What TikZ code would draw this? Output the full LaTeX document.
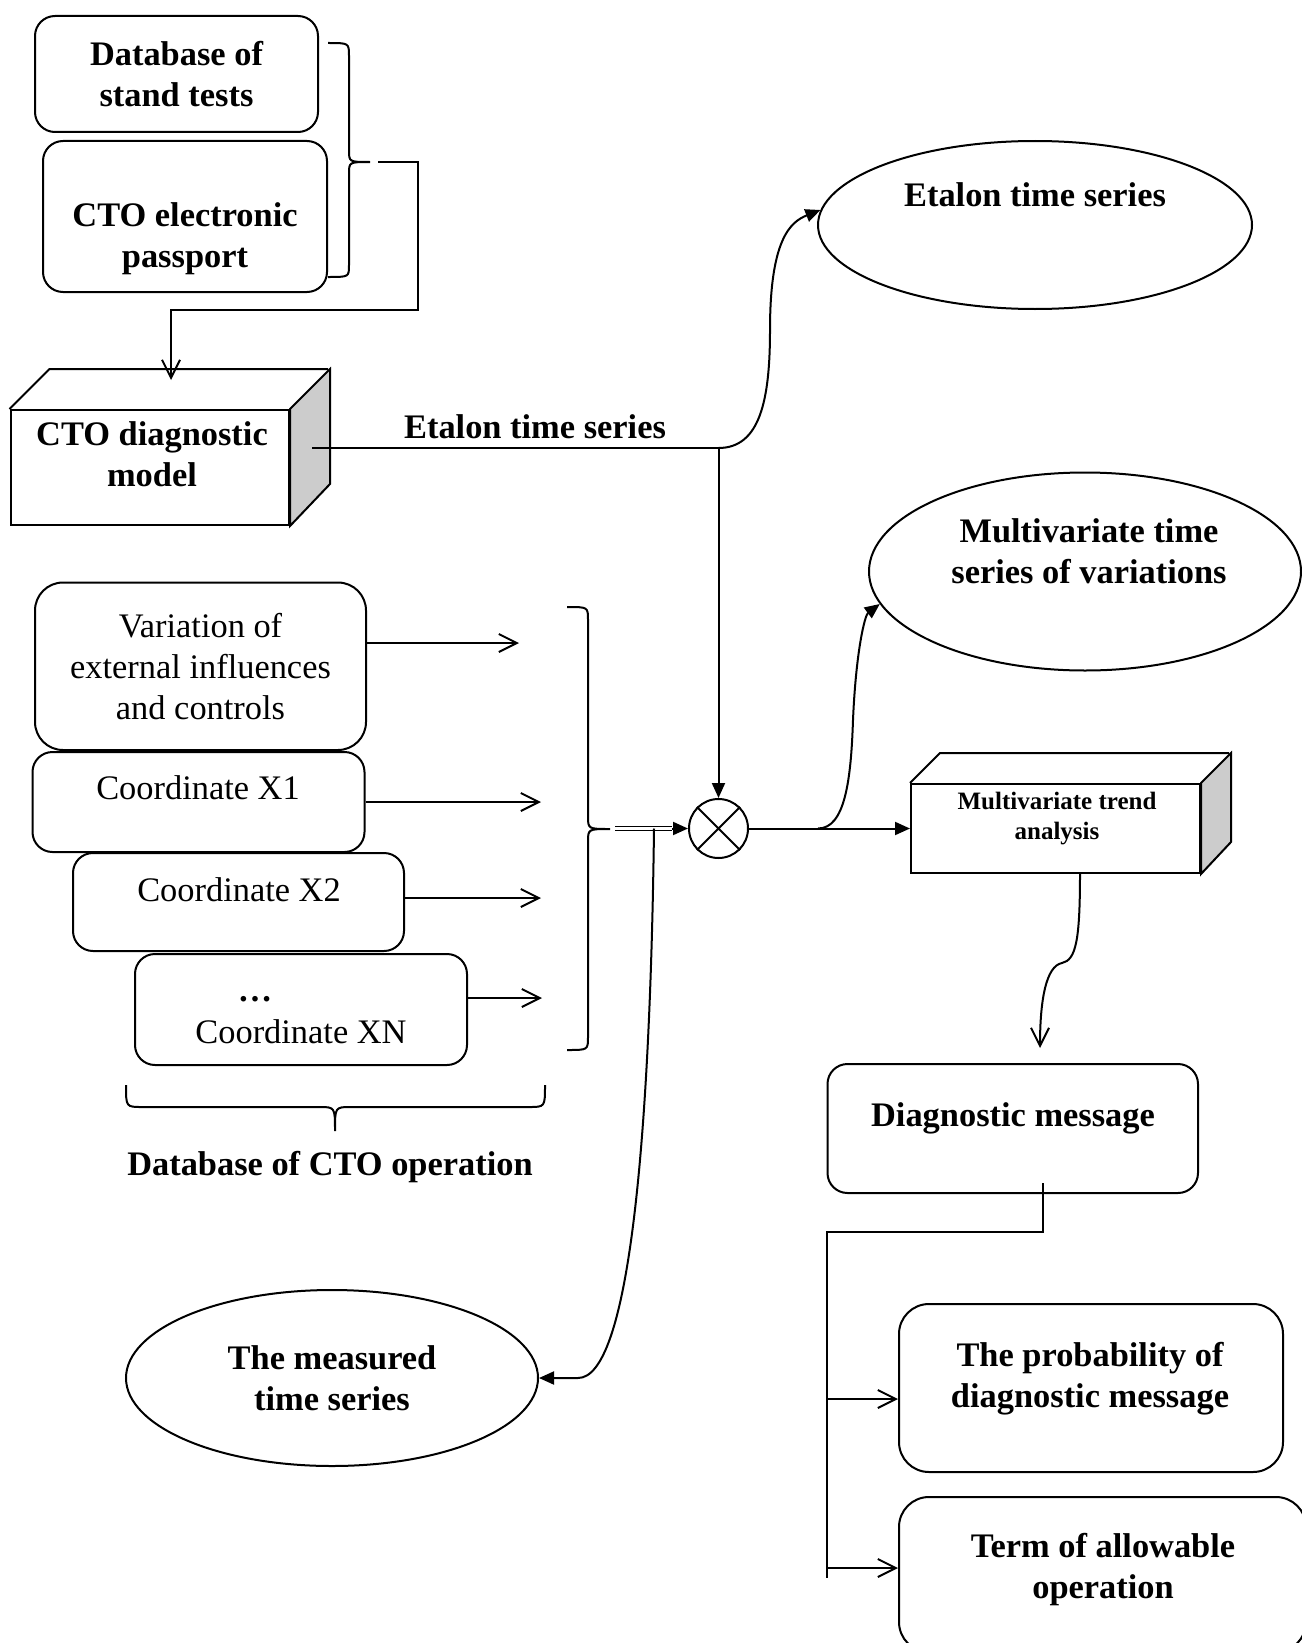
\documentclass[tikz,border=0pt]{standalone}
\usepackage{fontspec}
\setmainfont{Liberation Serif}
\usetikzlibrary{arrows.meta,shapes.geometric}

\begin{document}
\begin{tikzpicture}[x=0.5pt,y=-0.5pt,line width=1pt,
  rbox/.style={draw,rounded corners=10pt,inner sep=0pt},
  oval/.style={draw,ellipse,inner sep=0pt},
  face/.style={draw,inner sep=0pt},
  btxt/.style={font=\bfseries\fontsize{17.2}{20.5}\selectfont,align=center,inner sep=0pt},
  ntxt/.style={font=\fontsize{17.2}{20.5}\selectfont,align=center,inner sep=0pt},
  barb/.style={-{Straight Barb[length=9pt,width=9pt]}},
  tri/.style={-{Triangle[length=7.5pt,width=6.5pt]}}]
  \useasboundingbox (0,0) rectangle (1301,1643);

  \node[rbox,btxt,minimum width=141.5pt,minimum height=58pt] (tests) at (176.5,74) {Database of\\stand tests};
  \node[rbox,minimum width=142pt,minimum height=75.5pt] (passport) at (185,216.5) {};
  \node[btxt] (passport-t) at (185,239) {CTO electronic\\passport};
  \draw (328,43) .. controls (349,43) .. (349,56) -- (349,150) .. controls (349,162) .. (370,162)
    .. controls (349,162) .. (349,174) -- (349,265) .. controls (349,277) .. (328,277);

  \node[face,minimum width=139.25pt,minimum height=57.5pt] (model) at (149.75,467.5) {};
  \filldraw[fill=black!20] (model.north east) -- ++(40,-40) -- ++(0,115) -- (model.south east) -- cycle;
  \draw (model.north west) -- ++(40,-40) -- ++(278.5,0);
  \node[btxt] (model-t) at (152,454.5) {CTO diagnostic\\model};
  \coordinate (brace1) at (378,162);
  \coordinate (modeltop) at (171,380);
  \draw[barb] (brace1) -| (418,310) -| (modeltop);

  \node[oval,minimum width=217pt,minimum height=84pt] (etalon) at (1035,225) {};
  \node[btxt] (etalon-t) at (1035,195) {Etalon time series};
  \node[draw,circle,minimum size=29.5pt,inner sep=0pt] (mult) at (718.5,828.5) {};
  \draw (mult.north west) -- (mult.south east) (mult.north east) -- (mult.south west);
  \coordinate (modelout) at (312,448);
  \coordinate (fork) at (718.5,448);
  \draw (modelout) -- (fork);
  \node[btxt] (fork-t) at (535,427) {Etalon time series};
  \draw[tri] (fork) -- (mult.north);
  \draw[tri] (fork) .. controls (760,448) and (770,400) .. (770,330) .. controls (770,240) and (790,222) .. (etalon.176);

  \node[oval,minimum width=216pt,minimum height=99pt] (variations) at (1085,571.5) {};
  \node[btxt] (variations-t) at (1089,551) {Multivariate time\\series of variations};
  \node[face,minimum width=144.5pt,minimum height=44.5pt] (trend) at (1055.5,828.5) {};
  \filldraw[fill=black!20] (trend.north east) -- ++(30,-30) -- ++(0,89) -- (trend.south east) -- cycle;
  \draw (trend.north west) -- ++(30,-30) -- ++(289,0);
  \node[font=\bfseries\fontsize{12.5}{15}\selectfont,align=center] (trend-t) at (1057,819) {Multivariate trend\\analysis};
  \coordinate (split) at (818,828.5);
  \draw[tri] (mult.east) -- (trend.west);
  \draw[tri] (split) .. controls (845,828.5) and (851,780) .. (853,720) .. controls (856,650) and (865,615) .. (variations.189);

  \node[rbox,minimum width=185.25pt,minimum height=64.5pt] (diag) at (1012.75,1128.5) {};
  \node[btxt] (diag-t) at (1013,1118) {Diagnostic message};
  \coordinate (trendout) at (1080,873);
  \coordinate (diagin) at (1040,1048);
  \draw[barb] (trendout) .. controls (1080,940) and (1076,960) .. (1062,963) .. controls (1046,966) and (1040,1000) .. (diagin);

  \node[rbox,ntxt,rounded corners=14pt,minimum width=165.5pt,minimum height=83.75pt] (var) at (200.5,666.25) {Variation of\\external influences\\and controls};
  \node[rbox,minimum width=166pt,minimum height=50pt] (xone) at (198.5,802) {};
  \node[ntxt] (xone-t) at (198,788) {Coordinate X1};
  \node[rbox,minimum width=165.5pt,minimum height=49pt] (xtwo) at (238.5,902) {};
  \node[ntxt] (xtwo-t) at (239,890) {Coordinate X2};
  \node[rbox,minimum width=166pt,minimum height=55.5pt] (xn) at (301,1009.5) {};
  \node[btxt] (xn-dots) at (255,999) {\ldots};
  \node[ntxt] (xn-t) at (301,1032) {Coordinate XN};
  \draw[barb] (var.east |- 0,643) -- ++(152,0);
  \draw[barb] (xone.east) -- ++(175.5,0);
  \draw[barb] (xtwo.east |- 0,898) -- ++(136,0);
  \draw[barb] (xn.east |- 0,998) -- ++(74,0);

  \draw (567,607) .. controls (588,607) .. (588,620) -- (588,816) .. controls (588,829) .. (610,829)
    .. controls (588,829) .. (588,842) -- (588,1037) .. controls (588,1050) .. (567,1050);
  \draw[double,double distance=1.4pt,line width=0.6pt] (615,828.5) -- (672,828.5);
  \draw[tri] (672,828.5) -- (mult.west);

  \node[oval,btxt,minimum width=206pt,minimum height=88pt] (measured) at (332,1378) {The measured\\time series};
  \coordinate (tap) at (654,828.5);
  \draw[tri] (tap) .. controls (650,1150) and (628,1378) .. (578,1378) -- (measured.east);

  \draw (126,1085) .. controls (126,1107) .. (142,1107) -- (319,1107) .. controls (335,1107) .. (335,1131)
    .. controls (335,1107) .. (351,1107) -- (529,1107) .. controls (545,1107) .. (545,1085);
  \node[btxt] (opdb) at (330,1167) {Database of CTO operation};

  \coordinate (diagout) at (1043,1183);
  \coordinate (busend) at (827,1578);
  \draw (diagout) -- ++(0,49) -| (busend);
  \node[rbox,rounded corners=15pt,minimum width=192pt,minimum height=84pt] (prob) at (1091,1388) {};
  \node[btxt] (prob-t) at (1090,1379) {The probability of\\diagnostic message};
  \node[rbox,rounded corners=15pt,minimum width=203.5pt,minimum height=77.5pt] (term) at (1102.5,1574.5) {};
  \node[btxt] (term-t) at (1103,1570) {Term of allowable\\operation};
  \draw[barb] (busend |- 0,1399) -- (prob.west |- 0,1399);
  \draw[barb] (busend |- 0,1568) -- (term.west |- 0,1568);
\end{tikzpicture}
\end{document}
